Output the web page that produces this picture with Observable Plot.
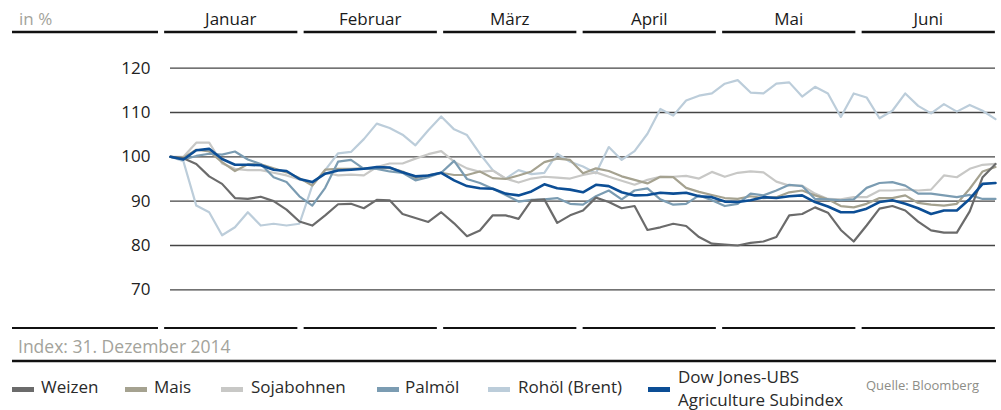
<!DOCTYPE html>
<html>
<head>
<meta charset="utf-8">
<script src="https://cdn.jsdelivr.net/npm/d3@7"></script>
<script src="https://cdn.jsdelivr.net/npm/@observablehq/plot@0.6"></script>
<style>
  html, body { margin: 0; padding: 0; background: #fff; }
  #wrap { position: relative; width: 1001px; height: 410px; font-family: 'Open Sans', sans-serif; }
  #wrap svg { position: absolute; left: 0; top: 0; }
  .lg { position: absolute; font-size: 17px; color: #2a2a2a; white-space: nowrap; line-height: 20px; }
  .sw { position: absolute; width: 22px; height: 5px; }
</style>
</head>
<body>
<div id="wrap"></div>
<script>
// ---- data (index, 31.12.2014 = 100), read at equally spaced dates ----
const startDate = Date.UTC(2014, 11, 31);
const endDate = Date.UTC(2015, 5, 30);
const months = ["Januar", "Februar", "März", "April", "Mai", "Juni"];
const yTicks = [70, 80, 90, 100, 110, 120];
const names = ["Weizen", "Mais", "Sojabohnen", "Palmöl", "Rohöl (Brent)", "Dow Jones-UBS Agriculture Subindex"];
const colors = ["#6b6b6b", "#a5a290", "#c8c8c6", "#7b9cb2", "#bccdda", "#0c4e95"];

const weizen = [100, 99.7, 98.4, 95.6, 93.9, 90.7, 90.5, 91, 90, 88.1, 85.4, 84.5, 86.8, 89.3, 89.4, 88.4, 90.3, 90.2, 87.1, 86.2, 85.3, 87.5, 85, 82.1, 83.4, 86.8, 86.8, 86, 90.2, 90.4, 85.1, 86.8, 87.9, 90.8, 89.8, 88.4, 88.9, 83.5, 84.1, 84.9, 84.4, 81.9, 80.4, 80.2, 80, 80.6, 80.9, 81.9, 86.8, 87.1, 88.6, 87.4, 83.5, 80.9, 84.5, 88.3, 88.9, 87.9, 85.4, 83.4, 82.9, 82.9, 87.7, 95.4, 98.4];
const mais = [100, 99.8, 101.6, 101.2, 98.8, 96.8, 98.3, 98.3, 97.4, 96.5, 95.2, 93.5, 97.1, 97.3, 97.3, 97.4, 97.3, 97.5, 96.7, 95.2, 95.8, 96.4, 95.9, 95.9, 96.7, 95.2, 95, 95.8, 96.7, 98.8, 99.6, 99.3, 96.3, 97.4, 96.8, 95.6, 94.8, 94, 95.5, 95.4, 93, 92.1, 91.4, 90.7, 90.5, 91.1, 90.7, 90.9, 92, 92.4, 91.3, 90.4, 88.9, 88.6, 89.4, 90.7, 90.7, 91.3, 89.6, 89.2, 89, 89.4, 92.8, 96.7, 97.7];
const sojabohnen = [100, 100, 103.2, 103.2, 98.5, 97.3, 97, 97, 96.4, 95.8, 94.9, 94.1, 96.4, 95.8, 96, 95.8, 97.7, 98.5, 98.5, 99.6, 100.6, 101.3, 98.9, 97.4, 96.6, 96.9, 95.1, 94.2, 95.1, 95.5, 95.3, 95.1, 95.9, 96.5, 95.5, 94.6, 93.7, 94.8, 95.5, 95.5, 95.7, 95.1, 96.6, 95.5, 96.4, 96.7, 96.5, 94.4, 93.5, 93.5, 91.7, 90.5, 90.4, 90.9, 90.9, 92.4, 92.4, 92.6, 92.4, 92.6, 95.8, 95.4, 97.3, 98.2, 98.4];
const palmoel = [100, 99.4, 100.2, 100.7, 100.5, 101.2, 99.4, 98.4, 95.4, 94.3, 91.1, 89, 93, 98.9, 99.3, 97.3, 97.3, 96.7, 96.4, 94.7, 95.4, 96.4, 99.1, 95, 94.1, 92.8, 91.4, 89.9, 90.3, 90.4, 90.7, 89.4, 89.2, 91.1, 92.4, 90.4, 92.4, 92.9, 90.4, 89.2, 89.4, 91.3, 90.2, 88.9, 89.4, 91.7, 91.3, 92.4, 93.7, 93.4, 90.5, 90.4, 90.2, 90.4, 93, 94.1, 94.3, 93.5, 91.7, 91.7, 91.3, 90.9, 91.4, 90.5, 90.5];
const rohoel = [100, 99, 89, 87.5, 82.3, 84.1, 87.5, 84.5, 84.9, 84.5, 84.9, 93.5, 97, 100.8, 101.1, 104, 107.5, 106.5, 105, 102.6, 106, 109.1, 106.2, 104.9, 100.7, 97, 95.1, 97, 96.1, 96.4, 100.7, 98.9, 97.8, 96.3, 102.2, 99.3, 101.3, 105.2, 110.8, 109.3, 112.7, 113.8, 114.3, 116.5, 117.3, 114.5, 114.3, 116.5, 116.8, 113.6, 115.8, 114.3, 109, 114.3, 113.4, 108.7, 110.4, 114.3, 111.5, 109.8, 111.9, 110.2, 111.7, 110.4, 108.5];
const djubs = [100, 99.4, 101.5, 101.8, 99.5, 98.2, 98.2, 98.1, 97.1, 96.8, 95, 94.3, 96.2, 96.9, 97.1, 97.3, 97.7, 97.6, 96.5, 95.6, 95.8, 96.4, 94.7, 93.4, 92.9, 92.8, 91.7, 91.3, 92.2, 93.8, 92.9, 92.6, 92, 93.7, 93.4, 92, 91.3, 91.4, 91.9, 91.7, 91.9, 91.1, 90.9, 89.9, 89.8, 90.2, 90.9, 90.7, 91.1, 91.3, 89.8, 88.8, 87.5, 87.5, 88.3, 89.8, 90.2, 89.4, 88.4, 87.1, 87.9, 87.9, 90.5, 93.9, 94.1];

const seriesValues = [weizen, mais, sojabohnen, palmoel, rohoel, djubs];
const n = weizen.length;
const dates = d3.range(n).map(i => new Date(startDate + (endDate - startDate) * i / (n - 1)));
const rows = names.flatMap((name, s) => seriesValues[s].map((v, i) => ({date: dates[i], value: v, name})));
const drawOrder = ["Rohöl (Brent)", "Sojabohnen", "Mais", "Palmöl", "Weizen"];
const djName = names[5];

const W = 1001, H = 368, yTopPx = 32, yBottomPx = 328;
const chart = Plot.plot({
  width: W, height: H,
  marginLeft: 170, marginRight: 6, marginTop: yTopPx, marginBottom: H - yBottomPx,
  style: {fontFamily: "'Open Sans', sans-serif", fontSize: "17px", color: "#222", background: "transparent", overflow: "visible"},
  x: {type: "utc", domain: [dates[0], dates[n - 1]], axis: null},
  y: {domain: [61.27, 128.05], axis: null},
  color: {domain: names, range: colors},
  marks: [
    Plot.ruleY(yTicks, {stroke: "#444", strokeWidth: 1.3}),
    Plot.axisY(yTicks, {tickSize: 0, tickPadding: 20, label: null, fontSize: 17, fill: "#222"}),
    ...drawOrder.map(nm => Plot.line(rows.filter(r => r.name === nm), {x: "date", y: "value", stroke: "name", strokeWidth: 2.2})),
    Plot.line(rows.filter(r => r.name === djName), {x: "date", y: "value", stroke: "name", strokeWidth: 2.6})
  ]
});

const wrap = document.getElementById("wrap");
wrap.appendChild(chart);

// ---- decorative header / footer frame ----
const svg = d3.select(chart);
const band = d3.scaleBand().domain(months).range([161, 998]).paddingInner(0.045).paddingOuter(0.0225);
const g = svg.append("g").attr("text-anchor", "start");
function segs(y, w) {
  g.append("line").attr("x1", 12).attr("x2", 158).attr("y1", y).attr("y2", y).attr("stroke", "#111").attr("stroke-width", w);
  g.selectAll(null).data(months).join("line")
    .attr("x1", d => band(d)).attr("x2", d => band(d) + band.bandwidth())
    .attr("y1", y).attr("y2", y).attr("stroke", "#111").attr("stroke-width", w);
}
segs(yTopPx, 2.6);
segs(yBottomPx, 2.2);
g.selectAll(null).data(months).join("text")
  .attr("x", d => band(d) + band.bandwidth() / 2).attr("y", 25)
  .attr("text-anchor", "middle").attr("font-size", 17).attr("fill", "#1a1a1a").text(d => d);
g.append("text").attr("x", 19).attr("y", 25).attr("text-anchor", "start").attr("font-size", 17).attr("fill", "#a3a39b").text("in %");
g.append("text").attr("x", 18).attr("y", 353).attr("text-anchor", "start").attr("font-size", 17.5).attr("fill", "#a3a39b").text("Index: 31. Dezember 2014");
g.append("line").attr("x1", 12).attr("x2", 996).attr("y1", 361).attr("y2", 361).attr("stroke", "#111").attr("stroke-width", 2.4);

// ---- legend ----
const swatchX = [12, 125, 221, 377, 488, 648];
const labelX = [41, 154, 251, 405, 518, 678];
names.forEach((nm, i) => {
  const sw = document.createElement("div");
  sw.className = "sw";
  sw.style.left = swatchX[i] + "px";
  sw.style.top = "387px";
  sw.style.background = colors[i];
  wrap.appendChild(sw);
  const lb = document.createElement("div");
  lb.className = "lg";
  lb.style.left = labelX[i] + "px";
  if (i === 5) {
    lb.style.top = "365px";
    lb.style.lineHeight = "23px";
    lb.innerHTML = "Dow Jones-UBS<br>Agriculture Subindex";
  } else {
    lb.style.top = "377px";
    lb.textContent = nm;
  }
  wrap.appendChild(lb);
});
const src = document.createElement("div");
src.className = "lg";
src.style.left = "866px";
src.style.top = "375px";
src.style.fontSize = "13px";
src.style.color = "#8d8d87";
src.textContent = "Quelle: Bloomberg";
wrap.appendChild(src);
</script>
</body>
</html>
